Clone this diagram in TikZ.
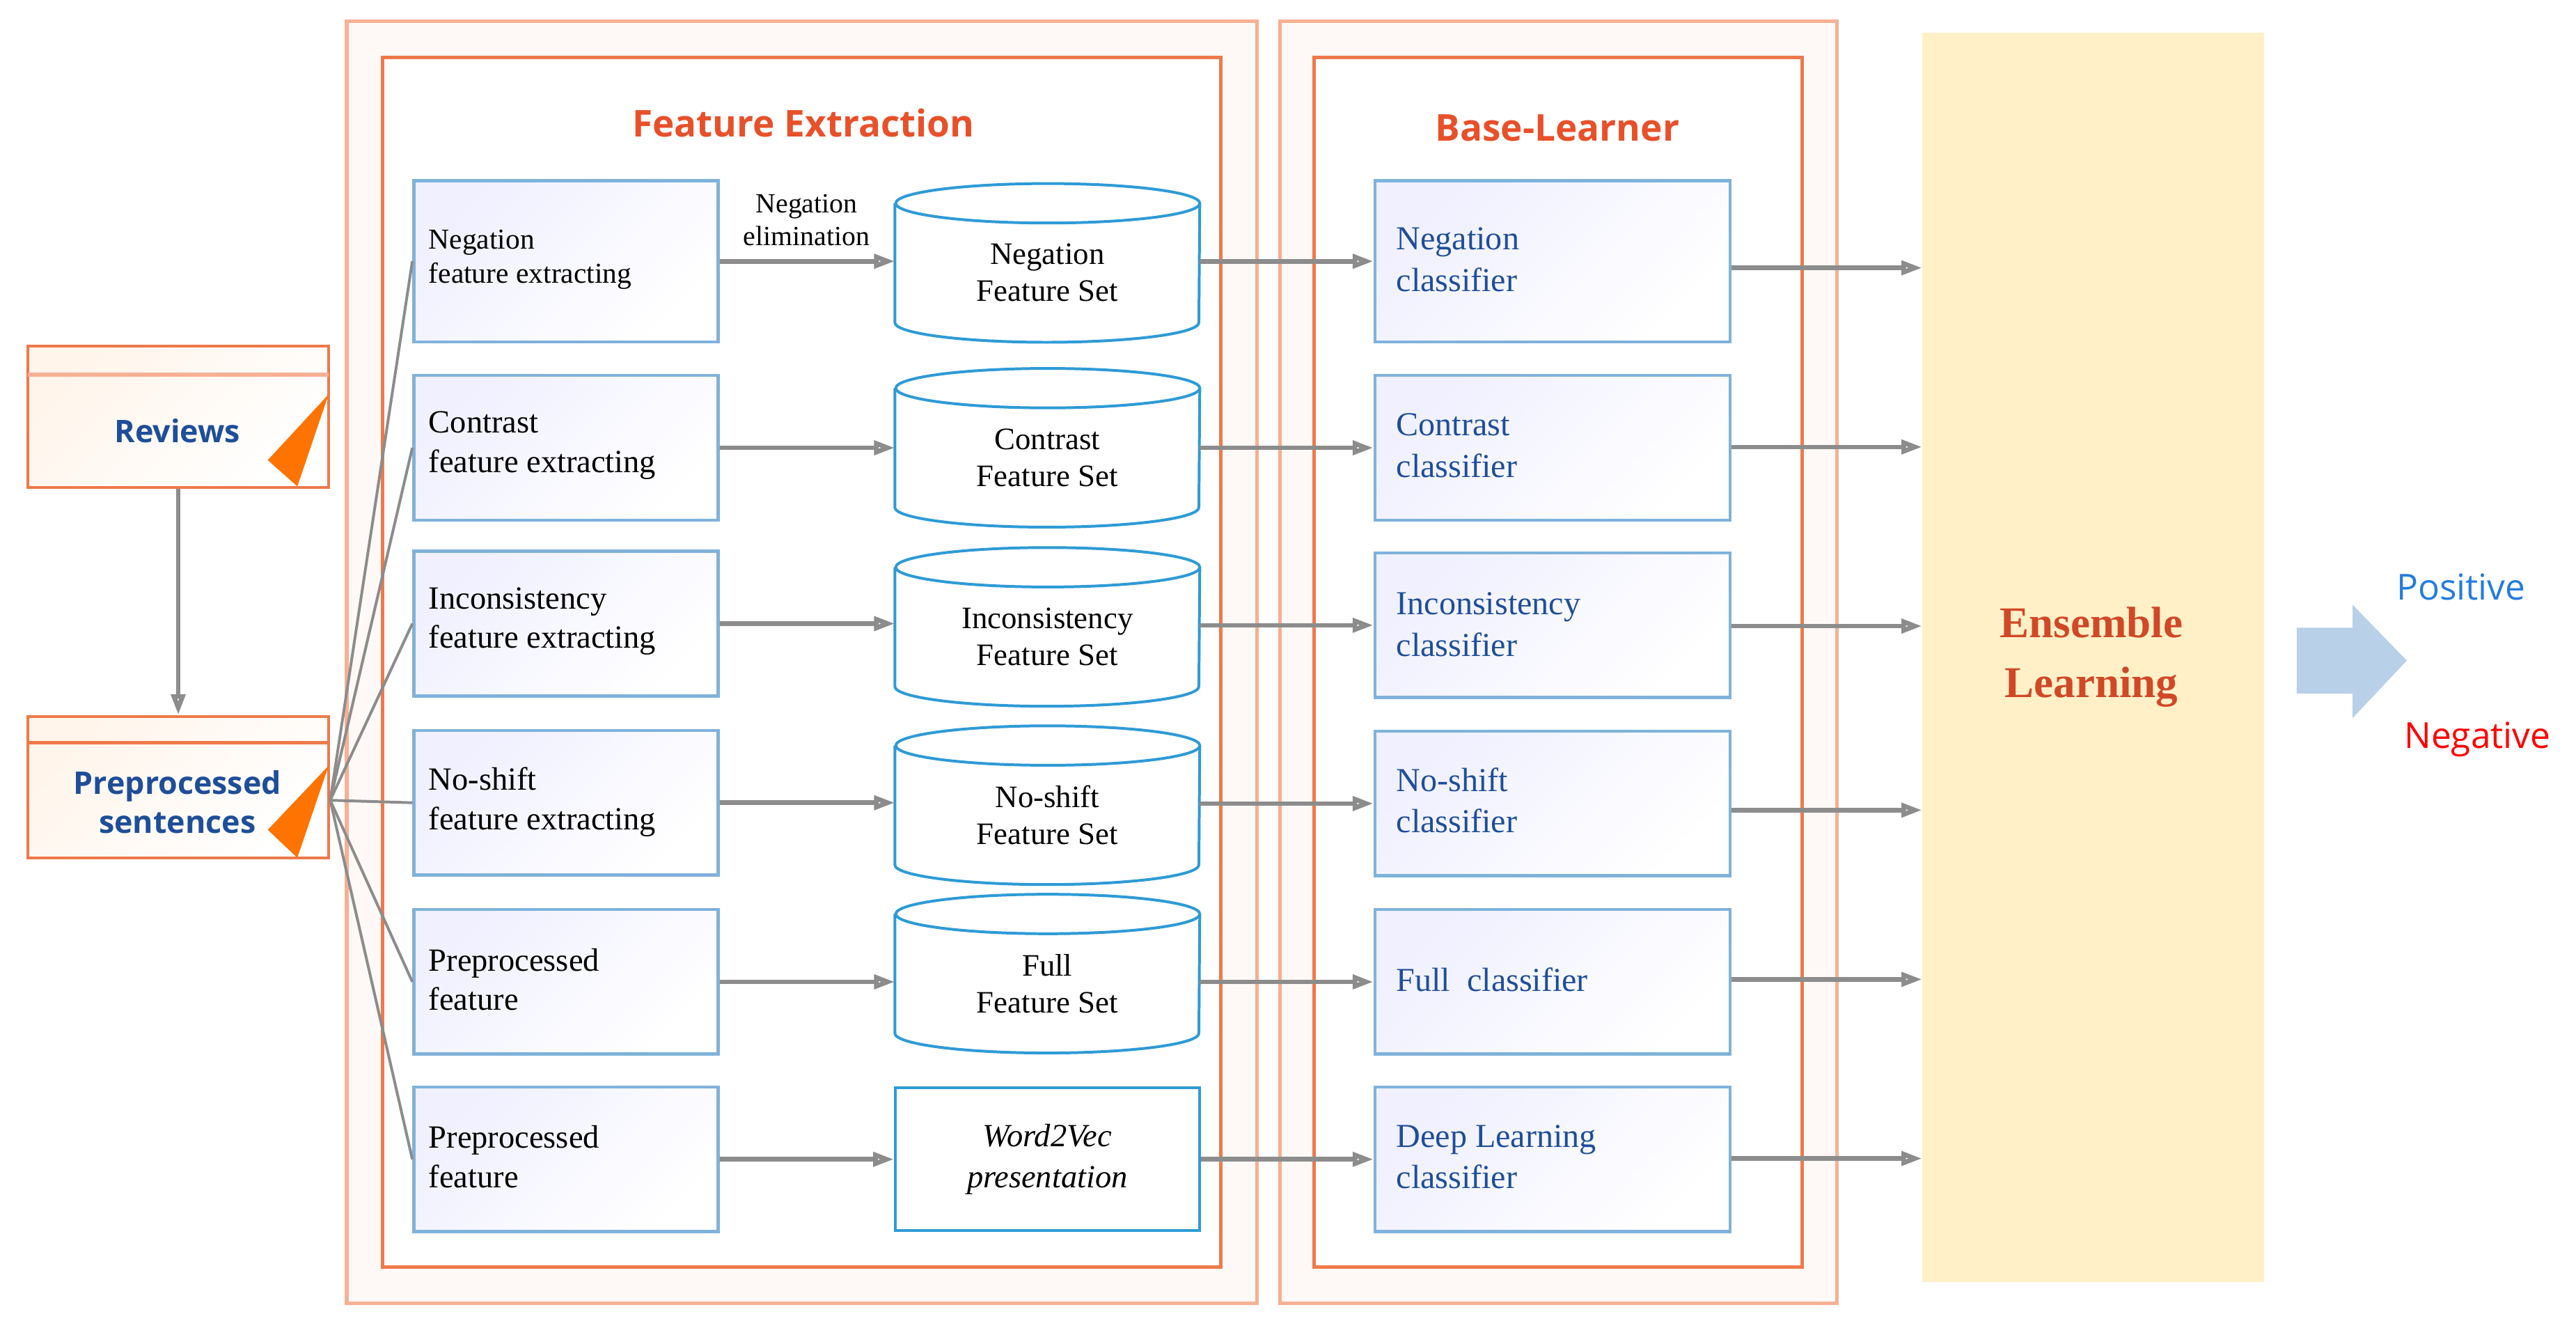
\documentclass[tikz,border=0pt]{standalone}
\usepackage{fontspec}
\setmainfont{Liberation Serif}
\newfontfamily\sansf{Open Sans}
\usetikzlibrary{arrows.meta,shapes.geometric}
\definecolor{orL}{HTML}{F6B093}
\definecolor{orD}{HTML}{EE7A4A}
\definecolor{orT}{HTML}{E8502A}
\definecolor{bxB}{HTML}{7FB2DA}
\definecolor{cyB}{HTML}{2E9BD6}
\definecolor{txB}{HTML}{1F4E99}
\definecolor{ens}{HTML}{FFF0C8}
\definecolor{arr}{HTML}{B8D0E8}
\definecolor{lnk}{HTML}{8C8C8C}
\begin{document}
\begin{tikzpicture}[x=0.025cm,y=-0.025cm,
  frameO/.style={draw=orL,line width=1.6pt,fill=orL!8},
  frameI/.style={draw=orD,line width=1.4pt,fill=white},
  bx/.style={draw=bxB,line width=1.4pt,top color=blue!6,bottom color=white,shading angle=45,minimum width=4.625cm,minimum height=2.2cm,inner sep=0pt},
  cls/.style={bx,minimum width=5.4cm},
  cylb/.style={minimum width=4.625cm,minimum height=2.4cm,inner sep=0pt,align=center,font=\fontsize{13.5}{16}\selectfont},
  lt/.style={anchor=west,align=left,font=\fontsize{14}{17}\selectfont},
  ct/.style={anchor=west,align=left,text=txB,font=\fontsize{14.5}{18}\selectfont},
  cyl/.style={draw=cyB,line width=1.2pt,fill=white},
  lk/.style={draw=lnk,line width=2pt,-{Triangle[open,length=9pt,width=6pt]}},
  fan/.style={draw=lnk,line width=1.2pt},
  rev/.style={draw=orD,line width=1.3pt,top color=orange!8,bottom color=white,shading angle=45,minimum width=4.575cm,minimum height=2.15cm,inner sep=0pt},
  revt/.style={text=txB,font=\sansf\fontsize{13.5}{17}\selectfont\bfseries,align=center}
]
\useasboundingbox (0,0) rectangle (1568,808);
% frames
\draw[frameO] (211,13) rectangle (765,793);
\draw[frameI] (233,35) rectangle (743,771);
\draw[frameO] (779,13) rectangle (1118,793);
\draw[frameI] (800,35) rectangle (1097,771);
\node[text=orT,font=\sansf\fontsize{16}{19}\selectfont\bfseries] (fe) at (489,75) {Feature Extraction};
\node[text=orT,font=\sansf\fontsize{16}{19}\selectfont\bfseries] (bl) at (948,78) {Base-Learner};
% ensemble
\node[fill=ens,minimum width=5.2cm,minimum height=19cm,inner sep=0pt] (ens) at (1274,400) {};
\node[text=orT!90!black,font=\fontsize{19}{26}\selectfont\bfseries,align=center] (enst) at (1273,400) {Ensemble\\Learning};
% reviews boxes
\node[rev] (rv) at (108.5,253.5) {};
\draw[draw=orL,line width=1.6pt] (17,228) -- (200,228);
\fill[orange!90!red] (200,240) -- (163,280) -- (181,296) -- cycle;
\node[revt] (rvt) at (108,262) {Reviews};
\node[rev] (ps) at (108.5,479) {};
\draw[draw=orD,line width=1.3pt] (17,452) -- (200,452);
\fill[orange!90!red] (200,466) -- (163,505) -- (181,522) -- cycle;
\node[revt] (pst) at (108,488) {Preprocessed\\sentences};
\draw[lk] (rv.south) -- (ps.north);
\coordinate (fan) at (201,487);
% left boxes
\node[bx,minimum height=2.45cm] (l1) at (344.5,159) {};
\node[bx] (l2) at (344.5,272.5) {};
\node[bx] (l3) at (344.5,379.5) {};
\node[bx] (l4) at (344.5,488.5) {};
\node[bx] (l5) at (344.5,597.5) {};
\node[bx] (l6) at (344.5,705.5) {};
\node[lt,font=\fontsize{12.5}{15}\selectfont] at (256,158) {Negation\\feature extracting};
\node[lt] at (256,271) {Contrast\\feature extracting};
\node[lt] at (256,378) {Inconsistency\\feature extracting};
\node[lt] at (256,488) {No-shift\\feature extracting};
\node[lt] at (256,596) {Preprocessed\\feature};
\node[lt] at (256,704) {Preprocessed\\feature};
\foreach \i in {1,...,6} \draw[fan] (fan) -- (l\i.west);
% cylinders
\foreach \n/\yy/\t in {c1/160/{Negation\\Feature Set},c2/272.5/{Contrast\\Feature Set},c3/381.5/{Inconsistency\\Feature Set},c4/490/{No-shift\\Feature Set},c5/592.5/{Full\\Feature Set}}{
  \node[cylb] (\n) at (637.5,\yy) {};
  \draw[cyl] ([yshift=-0.3cm]\n.north west) -- ([yshift=0.3cm]\n.south west) arc[start angle=180,end angle=360,x radius=2.3125cm,y radius=0.3cm] -- ([yshift=-0.3cm]\n.north east) arc[start angle=0,end angle=360,x radius=2.3125cm,y radius=0.3cm];
  \node[cylb,minimum height=0pt] at ([yshift=-0.15cm]\n.center) {\t};
}
\node[draw=cyB,line width=1.2pt,fill=white,minimum width=4.625cm,minimum height=2.175cm,align=center,font=\itshape\fontsize{14}{18}\selectfont] (c6) at (637.5,705.5) {Word2Vec\\presentation};
\node[font=\fontsize{12}{14}\selectfont,align=center] (ne) at (491,134) {Negation\\elimination};
\foreach \i in {1,...,6} \draw[lk] (l\i.east) -- (c\i.west |- l\i.east);
% classifiers
\node[cls,minimum height=2.45cm] (k1) at (945,159) {};
\node[cls] (k2) at (945,272.5) {};
\node[cls] (k3) at (945,380.5) {};
\node[cls] (k4) at (945,489) {};
\node[cls] (k5) at (945,597.5) {};
\node[cls] (k6) at (945,705.5) {};
\node[ct] at (845,158) {Negation\\classifier};
\node[ct] at (845,271) {Contrast\\classifier};
\node[ct] at (845,380) {Inconsistency\\classifier};
\node[ct] at (845,487) {No-shift\\classifier};
\node[ct] at (845,596) {Full\ \ classifier};
\node[ct] at (845,704) {Deep Learning\\classifier};
\foreach \i in {1,...,6} \draw[lk] (c\i.east |- k\i.west) -- (k\i.west);
\foreach \i/\yy in {1/163,2/272,3/381,4/493,5/596,6/705}{
  \coordinate (e\i) at (1170,\yy);
  \draw[lk] (k\i.east |- e\i) -- (e\i);
}
% output arrow
\fill[arr] (1398,382) -- (1432,382) -- (1432,368) -- (1465,402) -- (1432,437) -- (1432,422) -- (1398,422) -- cycle;
\node[text=cyB!80!blue,font=\sansf\fontsize{15.5}{18}\selectfont] (pos) at (1498,357) {Positive};
\node[text=red,font=\sansf\fontsize{15.5}{18}\selectfont] (neg) at (1508,450) {Negative};
\end{tikzpicture}
\end{document}
